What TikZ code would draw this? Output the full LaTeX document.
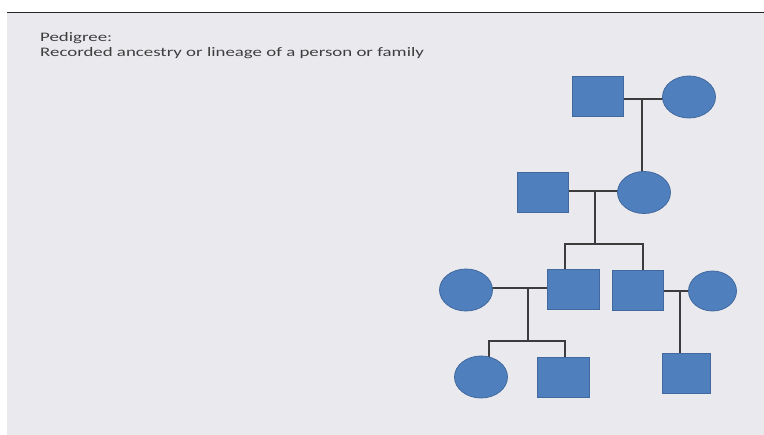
\documentclass[tikz,border=0pt]{standalone}
\usepackage{fontspec}
\setmainfont{Carlito}
\usetikzlibrary{shapes.geometric,backgrounds}
\definecolor{slidebg}{HTML}{EAE9EE}
\definecolor{symfill}{HTML}{4F7FBD}
\definecolor{symedge}{HTML}{41699E}
\definecolor{linkcol}{HTML}{3C3C3C}
\definecolor{textcol}{HTML}{3E3E3E}
\begin{document}
\begin{tikzpicture}[x=1pt,y=-1pt,
  male/.style={draw=symedge,fill=symfill,line width=0.8pt,rectangle,
    minimum width=51pt,minimum height=40pt,inner sep=0pt},
  female/.style={draw=symedge,fill=symfill,line width=0.8pt,ellipse,
    minimum width=53pt,minimum height=42pt,inner sep=0pt},
  link/.style={draw=linkcol,line width=2pt},
  caption/.style={anchor=base west,inner sep=0pt,
    font=\fontsize{13}{15}\selectfont,color=textcol}]
  \useasboundingbox (0,0) rectangle (764,435);
  \begin{pgfonlayer}{background}
    % slide area and top rule
    \fill[white] (0,0) rectangle (764,435);
    \fill[slidebg] (7,13) rectangle (764,435);
    \draw[line width=1.5pt,color=black!85] (7,12.5) -- (764,12.5);
  \end{pgfonlayer}
  % title
  \node[caption] (title1) at (40,42) {\scalebox{1.45}[1]{Pedigree:}};
  \node[caption] (title2) at (40,57)
    {\scalebox{1.45}[1]{Recorded ancestry or lineage of a person or family}};
  % generation I
  \node[male]   (gf) at (598,96) {};
  \node[female] (gm) at (689,97) {};
  % generation II
  \node[male]   (fa) at (542.5,192.5) {};
  \node[female] (mo) at (644,192.5) {};
  % generation III
  \node[female] (w1) at (466,290) {};
  \node[male,minimum width=52pt] (s1) at (573,289) {};
  \node[male]   (s2) at (637.5,290) {};
  \node[female,minimum width=48pt,minimum height=40pt] (w2) at (712.5,291) {};
  % generation IV
  \node[female] (d1) at (481,377) {};
  \node[male,minimum width=52pt] (d2) at (563,377) {};
  \node[male,minimum width=48pt] (d3) at (686,373) {};
  % connection points
  \coordinate (m1) at (642,99);
  \coordinate (m2) at (595,191);
  \coordinate (b1) at (595,244);
  \coordinate (b1l) at (565,244);
  \coordinate (b1r) at (643,244);
  \coordinate (m3) at (528,288);
  \coordinate (b2) at (528,341);
  \coordinate (b2l) at (489,341);
  \coordinate (b2r) at (565,341);
  \coordinate (m4) at (680,291);
  \begin{pgfonlayer}{background}
    % marriages
    \draw[link] (gf.east |- m1) -- (gm.center |- m1);
    \draw[link] (fa.east |- m2) -- (mo.center |- m2);
    \draw[link] (w1.center |- m3) -- (s1.west |- m3);
    \draw[link] (s2.east |- m4) -- (w2.center |- m4);
    % descent lines
    \draw[link] (m1) -- (m1 |- mo.center);
    \draw[link] (m2) -- (b1);
    \draw[link] (b1l |- s1.north) -- (b1l) -- (b1r) -- (b1r |- s2.north);
    \draw[link] (m3) -- (b2);
    \draw[link] (b2l |- d1.center) -- (b2l) -- (b2r) -- (b2r |- d2.north);
    \draw[link] (m4) -- (m4 |- d3.north);
  \end{pgfonlayer}
\end{tikzpicture}
\end{document}
